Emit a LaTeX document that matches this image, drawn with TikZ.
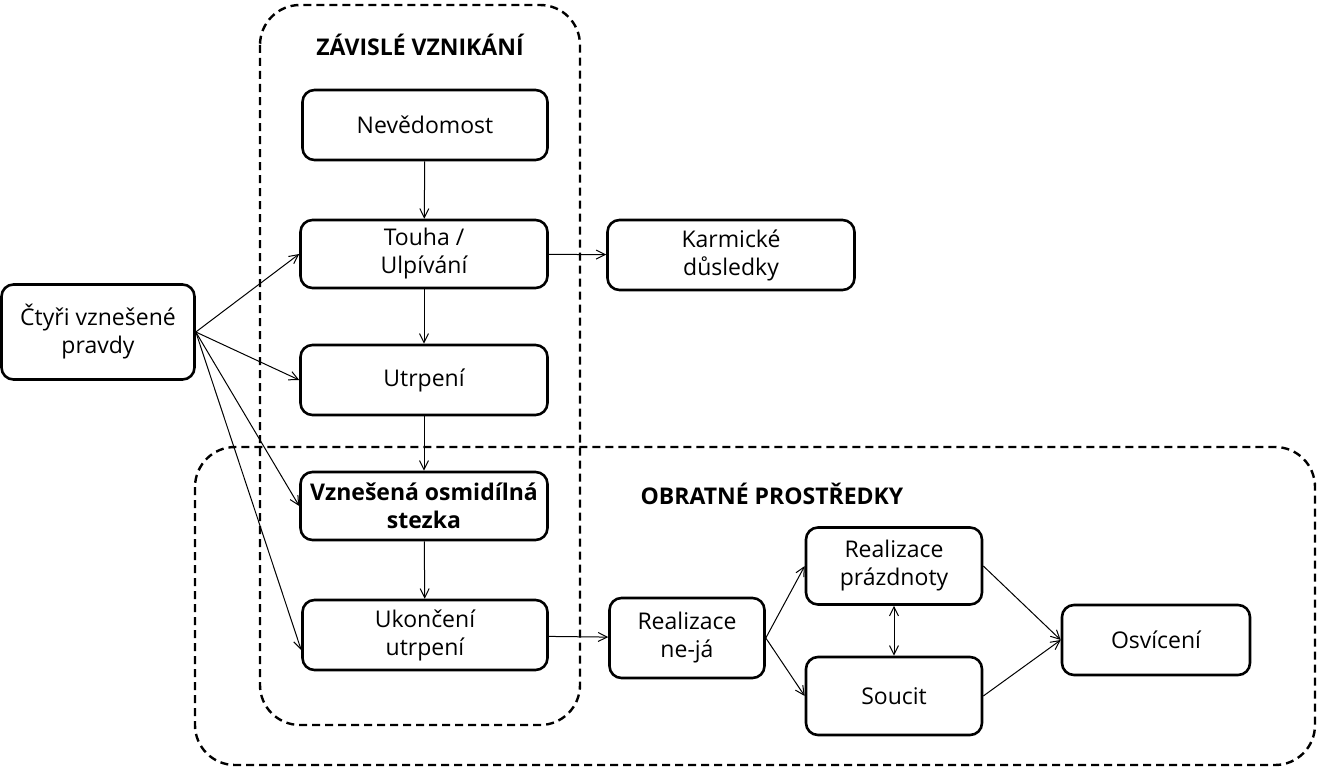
\documentclass[tikz,border=0pt]{standalone}
\usepackage{fontspec}
\setmainfont{Open Sans}
\usetikzlibrary{arrows.meta}
\begin{document}
\begin{tikzpicture}[x=1pt,y=-1pt,
 box/.style={draw,line width=2.6pt,rounded corners=12pt,align=center,font=\fontsize{23}{28}\selectfont,inner sep=0pt},
 grp/.style={draw,dashed,line width=2.4pt,rounded corners=40pt,dash pattern=on 8pt off 5pt},
 arr/.style={-{Straight Barb[length=9pt,width=9pt]},line width=1pt}]
\useasboundingbox (0,0) rectangle (1328,768);
\draw[grp] (260,5) rectangle (580,725);
\draw[grp] (195,447) rectangle (1315,765);
\node[font=\fontsize{23}{28}\selectfont\bfseries] (t1) at (420,45) {ZÁVISLÉ VZNIKÁNÍ};
\node[font=\fontsize{23}{28}\selectfont\bfseries] (t2) at (772,494) {OBRATNÉ PROSTŘEDKY};
\node[box,minimum width=245pt,minimum height=70pt] (nev) at (425,125) {Nevědomost};
\node[box,minimum width=247pt,minimum height=68pt] (tou) at (424,254) {Touha /\\Ulpívání};
\node[box,minimum width=247pt,minimum height=70pt] (utr) at (424,380) {Utrpení};
\node[box,minimum width=247pt,minimum height=68pt,font=\fontsize{23}{28}\selectfont\bfseries] (vzn) at (424,506) {Vznešená osmidílná\\stezka};
\node[box,minimum width=245pt,minimum height=70pt] (uko) at (425,635) {Ukončení\\utrpení};
\node[box,minimum width=247pt,minimum height=70pt] (kar) at (731,255) {Karmické\\důsledky};
\node[box,minimum width=193pt,minimum height=95pt] (ctr) at (98,332) {Čtyři vznešené\\pravdy};
\node[box,minimum width=155pt,minimum height=80pt] (nej) at (687,638) {Realizace\\ne-já};
\node[box,minimum width=176pt,minimum height=77pt] (pra) at (894,566) {Realizace\\prázdnoty};
\node[box,minimum width=176pt,minimum height=78pt] (sou) at (894,696) {Soucit};
\node[box,minimum width=188pt,minimum height=70pt] (osv) at (1156,640) {Osvícení};
\draw[arr] (ctr.east) -- (tou.west);
\draw[arr] (ctr.east) -- (utr.west);
\draw[arr] (ctr.east) -- (vzn.west);
\draw[arr] (ctr.east) -- ([yshift=-15pt]uko.west);
\draw[arr] (nev) -- (tou);
\draw[arr] (tou) -- (utr);
\draw[arr] (utr) -- (vzn);
\draw[arr] (vzn) -- (uko);
\draw[arr] (tou) -- (kar);
\draw[arr] (uko) -- (nej);
\draw[arr] (nej.east) -- (pra.west);
\draw[arr] (nej.east) -- (sou.west);
\draw[arr,{Straight Barb[length=9pt,width=9pt]}-{Straight Barb[length=9pt,width=9pt]}] (pra) -- (sou);
\draw[arr] (pra.east) -- (osv.west);
\draw[arr] (sou.east) -- (osv.west);
\end{tikzpicture}
\end{document}
